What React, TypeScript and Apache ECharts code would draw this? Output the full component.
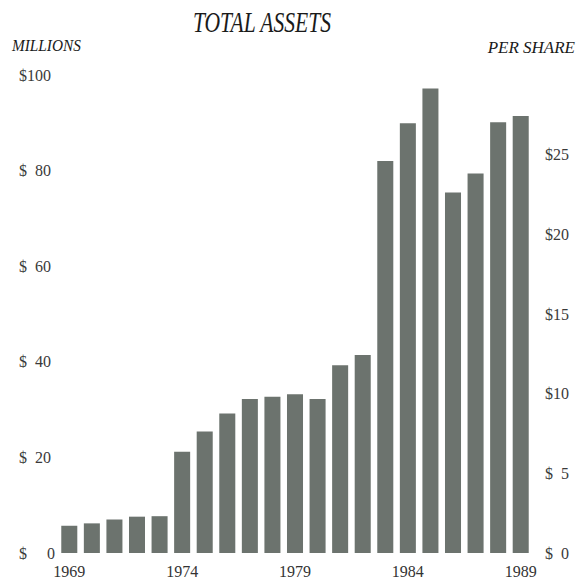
import React, { useEffect, useRef } from "react";
import * as echarts from "echarts";

const years = ["1969","1970","1971","1972","1973","1974","1975","1976","1977","1978","1979","1980","1981","1982","1983","1984","1985","1986","1987","1988","1989"];
const totalAssets = [5.7, 6.2, 7.0, 7.6, 7.7, 21.2, 25.4, 29.2, 32.2, 32.7, 33.2, 32.2, 39.3, 41.4, 82.0, 89.9, 97.2, 75.4, 79.4, 90.1, 91.4];
const leftTicks = [0, 20, 40, 60, 80, 100];
const rightTicks = [0, 5, 10, 15, 20, 25];

const NB = "\u00a0";

export default function App() {
  const ref = useRef<HTMLDivElement>(null);
  useEffect(() => {
    if (!ref.current) return;
    const chart = echarts.init(ref.current, null, { renderer: "svg" });
    const serif = "'Liberation Serif', 'DejaVu Serif', serif";
    chart.setOption({
      animation: false,
      backgroundColor: "#ffffff",
      grid: { left: 58, right: 49, top: 75, bottom: 30 },
      graphic: [
        {
          type: "text",
          x: 262,
          y: 22,
          scaleX: 0.72,
          style: {
            text: "TOTAL ASSETS",
            font: `italic 30px ${serif}`,
            fill: "#1a1a1a",
            textAlign: "center",
            textVerticalAlign: "middle",
          },
        },
        {
          type: "text",
          x: 12,
          y: 45,
          scaleX: 0.9,
          style: {
            text: "MILLIONS",
            font: `italic 17px ${serif}`,
            fill: "#1a1a1a",
            textAlign: "left",
            textVerticalAlign: "middle",
          },
        },
        {
          type: "text",
          x: 575,
          y: 47,
          style: {
            text: "PER SHARE",
            font: `italic 17px ${serif}`,
            fill: "#1a1a1a",
            textAlign: "right",
            textVerticalAlign: "middle",
          },
        },
      ],
      xAxis: {
        type: "category",
        data: years,
        axisLine: { show: false },
        axisTick: { show: false },
        axisLabel: {
          interval: 4,
          margin: 10,
          fontFamily: serif,
          fontSize: 16,
          color: "#333333",
        },
      },
      yAxis: [
        {
          type: "value",
          min: 0,
          max: 100,
          interval: 20,
          splitLine: { show: false },
          axisLine: { show: false },
          axisTick: { show: false },
          axisLabel: {
            align: "left",
            margin: 39,
            fontFamily: serif,
            fontSize: 16,
            color: "#3a3a3a",
            formatter: (v: number) => {
              if (!leftTicks.includes(v)) return "";
              if (v >= 100) return "$" + v;
              if (v === 0) return "$" + NB + NB + NB + NB + NB + "0";
              return "$" + NB + NB + v;
            },
          },
        },
        {
          type: "value",
          min: 0,
          max: 30,
          interval: 5,
          position: "right",
          splitLine: { show: false },
          axisLine: { show: false },
          axisTick: { show: false },
          axisLabel: {
            align: "left",
            margin: 13,
            fontFamily: serif,
            fontSize: 16,
            color: "#3a3a3a",
            formatter: (v: number) => {
              if (!rightTicks.includes(v)) return "";
              if (v >= 10) return "$" + v;
              return "$" + NB + NB + v;
            },
          },
        },
      ],
      series: [
        {
          type: "bar",
          data: totalAssets,
          yAxisIndex: 0,
          barCategoryGap: "29%",
          itemStyle: { color: "#6c736e" },
        },
      ],
    });
    return () => chart.dispose();
  }, []);
  return (
    <div
      ref={ref}
      style={{ position: "fixed", left: 0, top: 0, width: 581, height: 583, background: "#fff" }}
    />
  );
}
